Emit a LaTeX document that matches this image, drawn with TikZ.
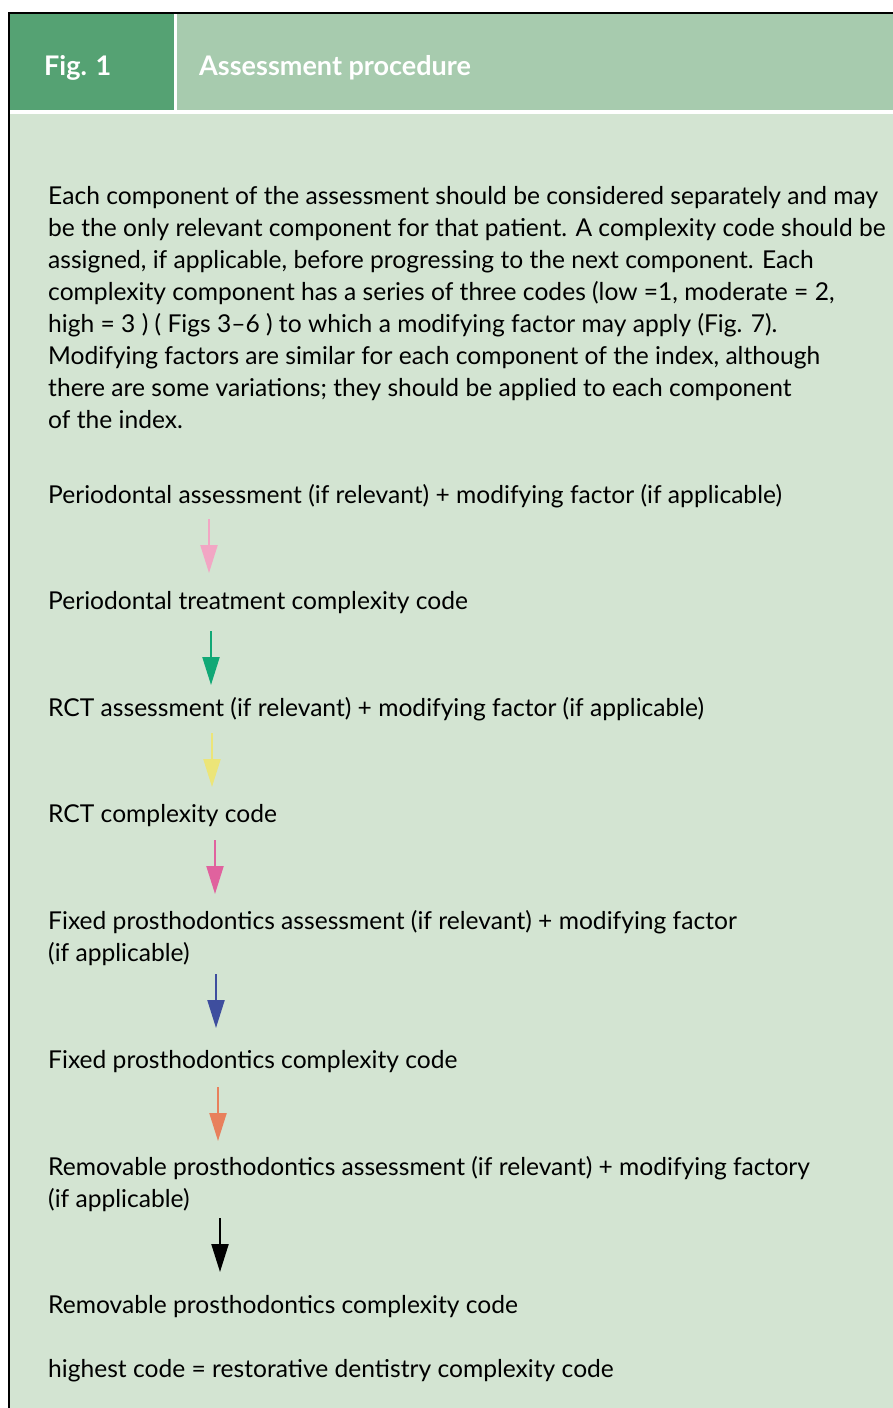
\documentclass[tikz,border=0pt]{standalone}
\usepackage{fontspec}
\setmainfont{Lato}
\usetikzlibrary{arrows.meta}
\definecolor{hdark}{RGB}{85,162,115}
\definecolor{hlight}{RGB}{167,203,174}
\definecolor{bodyc}{RGB}{211,228,210}
\definecolor{apink}{RGB}{242,166,196}
\definecolor{agreen}{RGB}{16,168,118}
\definecolor{ayellow}{RGB}{236,229,120}
\definecolor{amagenta}{RGB}{224,98,158}
\definecolor{ablue}{RGB}{62,78,158}
\definecolor{aorange}{RGB}{232,128,92}
\begin{document}
\begin{tikzpicture}[x=1pt,y=-1pt,
  txt/.style={anchor=base west, inner sep=0pt, font=\fontsize{24.6}{32}\selectfont, text=black},
  head/.style={anchor=base west, inner sep=0pt, font=\bfseries\fontsize{27}{30}\selectfont, text=white},
  flow/.style={line width=2.2pt, -{Triangle[length=28pt,width=17pt]}}]
\useasboundingbox (0,0) rectangle (893,1408);
\fill[white] (0,0) rectangle (893,1408);
\fill[bodyc] (9,114) rectangle (893,1408);
\fill[hdark] (9,13) rectangle (174,109.5);
\fill[hlight] (177,13) rectangle (893,109.5);
\draw[line width=1.5pt] (9,1408) -- (9,13) -- (893,13);
\node[head] (fig) at (44,75) {Fig. 1};
\node[head] (title) at (199,75) {Assessment procedure};
\node[txt] (l1) at (48,204) {Each component of the assessment should be considered separately and may};
\node[txt] (l2) at (48,236) {be the only relevant component for that patient. A complexity code should be};
\node[txt] (l3) at (48,268) {assigned, if applicable, before progressing to the next component. Each};
\node[txt] (l4) at (48,300) {complexity component has a series of three codes (low =1, moderate = 2,};
\node[txt] (l5) at (48,332) {high = 3 ) ( Figs 3--6 ) to which a modifying factor may apply (Fig. 7).};
\node[txt] (l6) at (48,364) {Modifying factors are similar for each component of the index, although};
\node[txt] (l7) at (48,396) {there are some variations; they should be applied to each component};
\node[txt] (l8) at (48,428) {of the index.};
\node[txt] (s1) at (48,503) {Periodontal assessment (if relevant) + modifying factor (if applicable)};
\node[txt] (s2) at (48,609) {Periodontal treatment complexity code};
\node[txt] (s3) at (48,716) {RCT assessment (if relevant) + modifying factor (if applicable)};
\node[txt] (s4) at (48,822) {RCT complexity code};
\node[txt] (s5) at (48,929) {Fixed prosthodontics assessment (if relevant) + modifying factor};
\node[txt] (s5b) at (48,961) {(if applicable)};
\node[txt] (s6) at (48,1068) {Fixed prosthodontics complexity code};
\node[txt] (s7) at (48,1175) {Removable prosthodontics assessment (if relevant) + modifying factory};
\node[txt] (s7b) at (48,1207) {(if applicable)};
\node[txt] (s8) at (48,1313) {Removable prosthodontics complexity code};
\node[txt] (s9) at (48,1377) {highest code = restorative dentistry complexity code};
\coordinate (a1s) at (209,519); \coordinate (a1e) at (209,573);
\coordinate (a2s) at (211,631); \coordinate (a2e) at (211,685);
\coordinate (a3s) at (212,733); \coordinate (a3e) at (212,787);
\coordinate (a4s) at (215,840); \coordinate (a4e) at (215,894);
\coordinate (a5s) at (216,974); \coordinate (a5e) at (216,1028);
\coordinate (a6s) at (218,1087); \coordinate (a6e) at (218,1141);
\coordinate (a7s) at (220,1218); \coordinate (a7e) at (220,1272);
\draw[flow, apink] (a1s) -- (a1e);
\draw[flow, agreen] (a2s) -- (a2e);
\draw[flow, ayellow] (a3s) -- (a3e);
\draw[flow, amagenta] (a4s) -- (a4e);
\draw[flow, ablue] (a5s) -- (a5e);
\draw[flow, aorange] (a6s) -- (a6e);
\draw[flow, black] (a7s) -- (a7e);
\end{tikzpicture}
\end{document}
